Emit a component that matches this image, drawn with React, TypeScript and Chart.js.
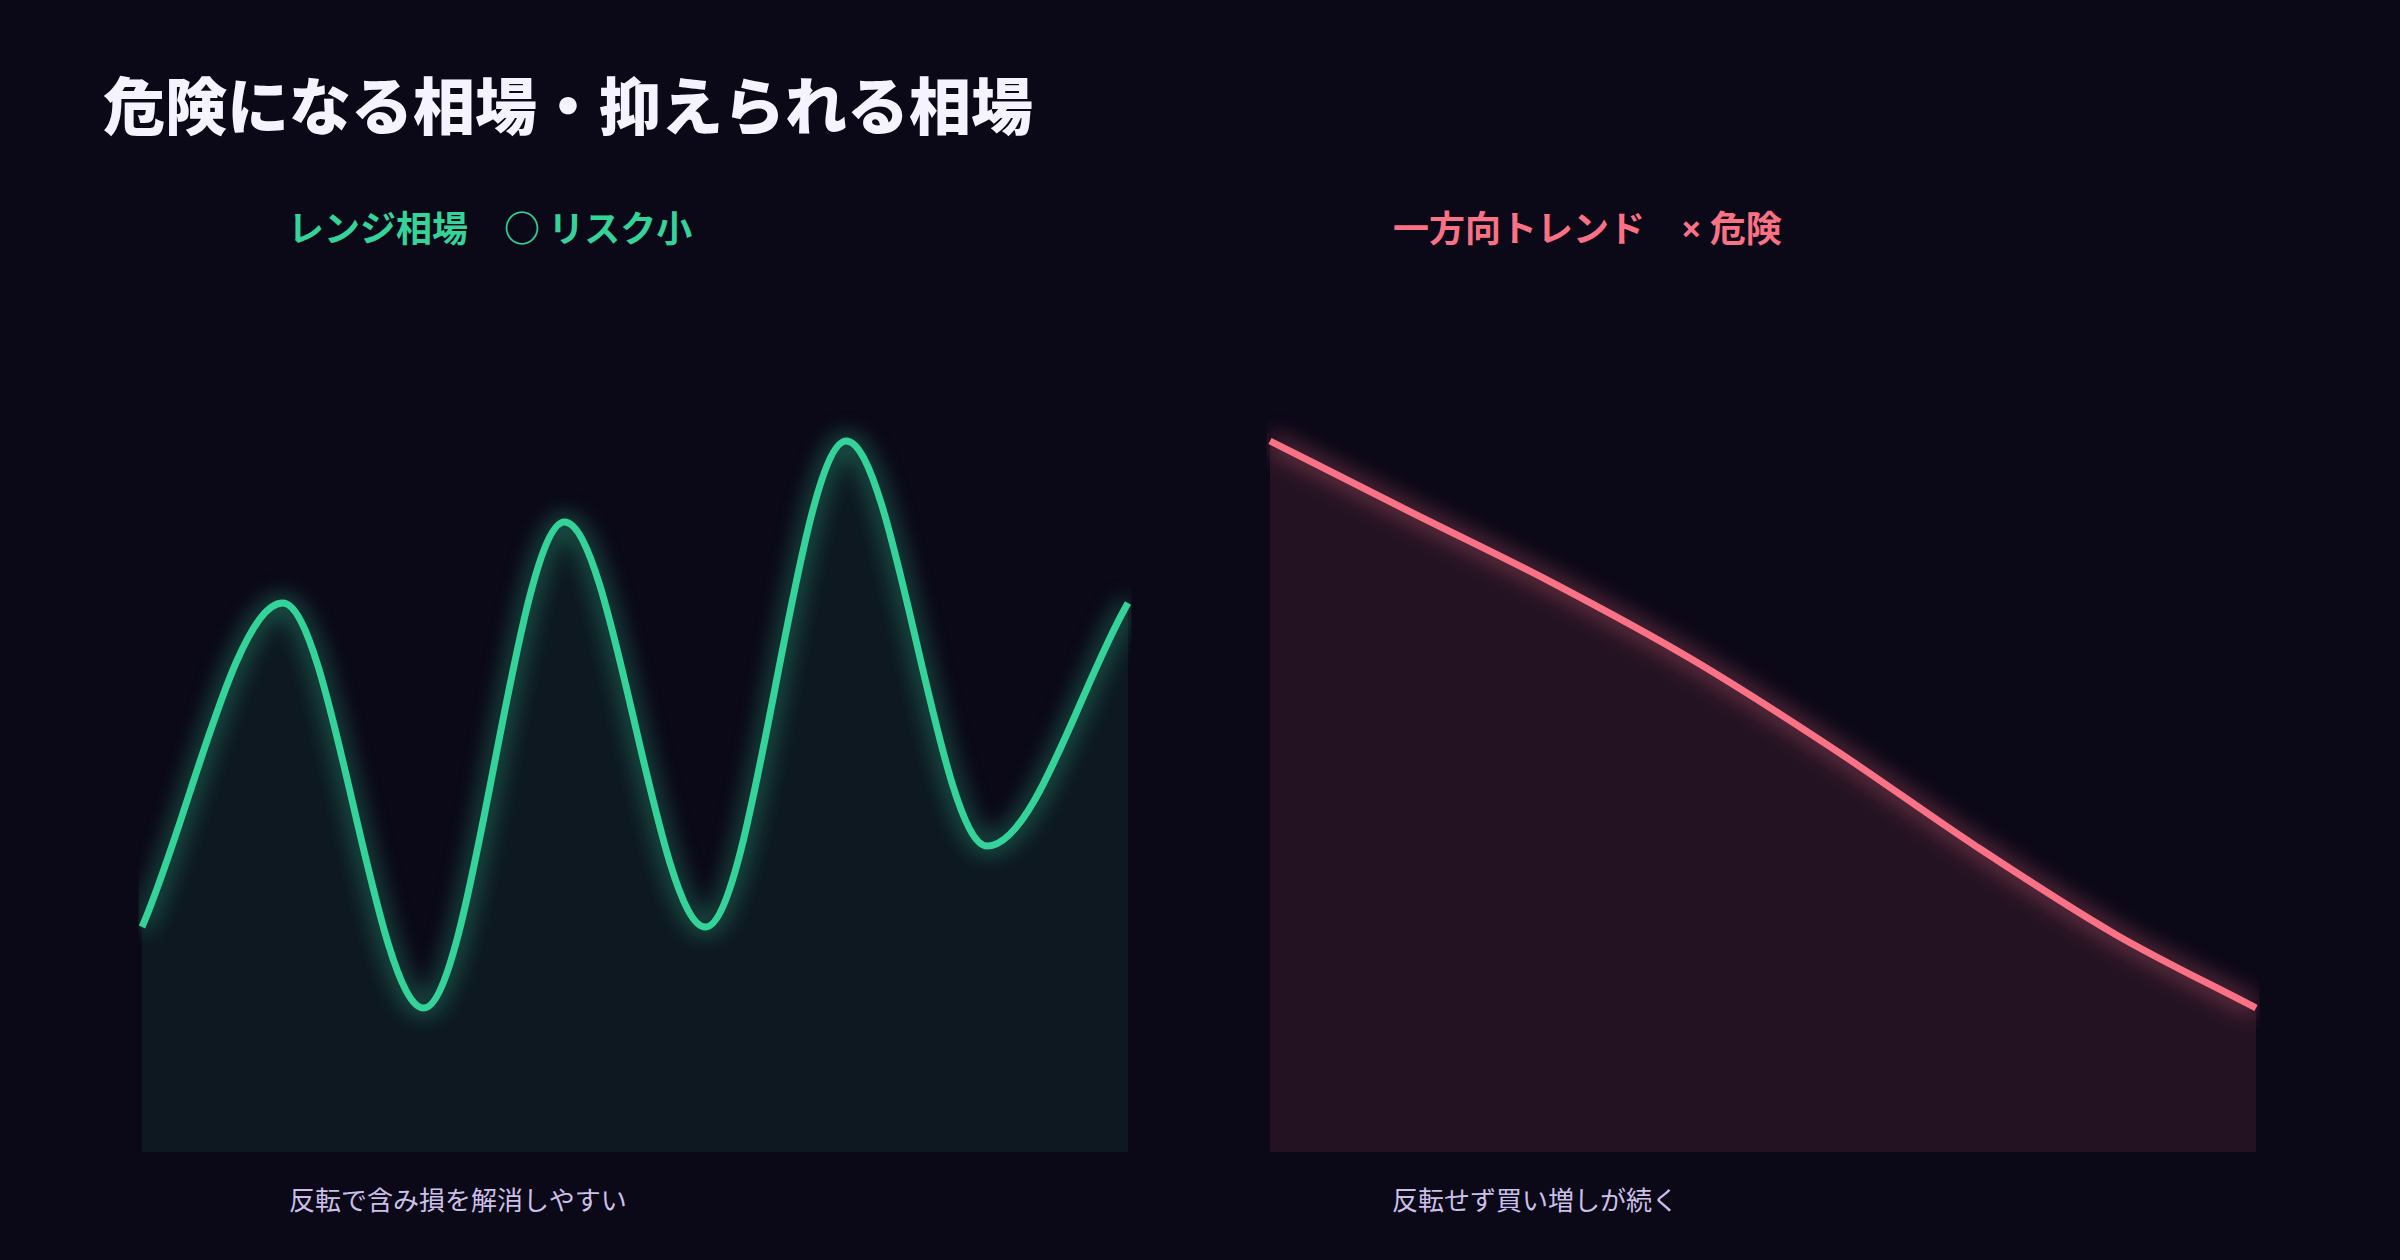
import React, { useEffect, useRef } from 'react';
import { Chart, registerables } from 'chart.js';

Chart.register(...registerables);

// ---- data ----
const pageTitle = '危険になる相場・抑えられる相場';
const steps = ['1', '2', '3', '4', '5', '6', '7', '8'];
const rangeValues = [25, 61, 16, 70, 25, 79, 34, 61];
const trendValues = [79, 71.1, 63.3, 54.7, 44.8, 34.1, 24.2, 16];
const headingLeft = ['レンジ相場　', '○', ' リスク小'];
const headingRight = ['一方向トレンド　', '×', ' 危険'];
const captions = ['反転で含み損を解消しやすい', '反転せず買い増しが続く'];
const yRange = [0, 100];

const BG = '#0b0817';
const FONT = '"Noto Sans CJK JP", "Noto Sans", sans-serif';
const LATIN = '"Noto Sans", "Noto Sans CJK JP", sans-serif';
const PAD = 24;

const glowPlugin = {
  id: 'glowLine',
  beforeDatasetDraw(chart: any, args: any) {
    const ds: any = chart.data.datasets[args.index];
    const ctx = chart.ctx;
    ctx.save();
    ctx.shadowColor = ds.glowColor;
    ctx.shadowBlur = 24;
    ctx.shadowOffsetX = 0;
    ctx.shadowOffsetY = 0;
  },
  afterDatasetDraw(chart: any) {
    chart.ctx.restore();
  },
};

type LineProps = {
  values: number[];
  color: string;
  fillColor: string;
  glowColor: string;
  left: number;
  top: number;
  width: number;
  height: number;
};

function GlowLine({ values, color, fillColor, glowColor, left, top, width, height }: LineProps) {
  const ref = useRef<HTMLCanvasElement | null>(null);
  useEffect(() => {
    if (!ref.current) return;
    const chart = new Chart(ref.current, {
      type: 'line',
      data: {
        labels: steps,
        datasets: [
          {
            data: values,
            borderColor: color,
            borderWidth: 7,
            backgroundColor: fillColor,
            fill: 'start',
            pointRadius: 0,
            pointHoverRadius: 0,
            cubicInterpolationMode: 'monotone',
            glowColor,
          } as any,
        ],
      },
      options: {
        animation: false,
        responsive: false,
        maintainAspectRatio: false,
        devicePixelRatio: 1,
        events: [],
        layout: { padding: PAD, autoPadding: false },
        plugins: {
          legend: { display: false },
          tooltip: { enabled: false },
          title: { display: false },
        },
        scales: {
          x: { display: false, offset: false },
          y: { display: false, min: yRange[0], max: yRange[1] },
        },
      },
      plugins: [glowPlugin],
    });
    return () => chart.destroy();
  }, []);
  return (
    <canvas
      ref={ref}
      width={width + PAD * 2}
      height={height + PAD * 2}
      style={{
        position: 'absolute',
        left: left - PAD,
        top: top - PAD,
        width: width + PAD * 2,
        height: height + PAD * 2,
      }}
    />
  );
}

const textBase: React.CSSProperties = {
  position: 'absolute',
  fontFamily: FONT,
  lineHeight: 1,
  whiteSpace: 'pre',
  margin: 0,
};

export default function App() {
  useEffect(() => {
    document.body.style.background = BG;
  }, []);
  const areaTop = 252;
  const areaW = 986;
  const areaH = 900;
  return (
    <div
      style={{
        position: 'fixed',
        left: 0,
        top: 0,
        width: 2400,
        height: 1260,
        background: BG,
        overflow: 'hidden',
      }}
    >
      <div style={{ ...textBase, left: 103, top: 72, fontSize: 62, fontWeight: 900, color: '#f5f3ff' }}>
        {pageTitle}
      </div>

      <div style={{ ...textBase, left: 288, top: 208, fontSize: 36, fontWeight: 700, color: '#34d399' }}>
        {headingLeft[0]}
        {headingLeft[1]}
        {headingLeft[2]}
      </div>
      <div style={{ ...textBase, left: 1393, top: 208, fontSize: 36, fontWeight: 700, color: '#fb7185' }}>
        {headingRight[0]}
        <span style={{ fontFamily: LATIN }}>{headingRight[1]}</span>
        {headingRight[2]}
      </div>

      <GlowLine
        values={rangeValues}
        color="#34d399"
        fillColor="rgba(52,211,153,0.08)"
        glowColor="rgba(52,211,153,0.9)"
        left={142}
        top={areaTop}
        width={areaW}
        height={areaH}
      />
      <GlowLine
        values={trendValues}
        color="#fb7185"
        fillColor="rgba(251,113,133,0.1)"
        glowColor="rgba(251,113,133,0.9)"
        left={1270}
        top={areaTop}
        width={areaW}
        height={areaH}
      />

      <div style={{ ...textBase, left: 289, top: 1186, fontSize: 26, fontWeight: 400, color: '#cbc0ea' }}>
        {captions[0]}
      </div>
      <div style={{ ...textBase, left: 1392, top: 1186, fontSize: 26, fontWeight: 400, color: '#cbc0ea' }}>
        {captions[1]}
      </div>
    </div>
  );
}
